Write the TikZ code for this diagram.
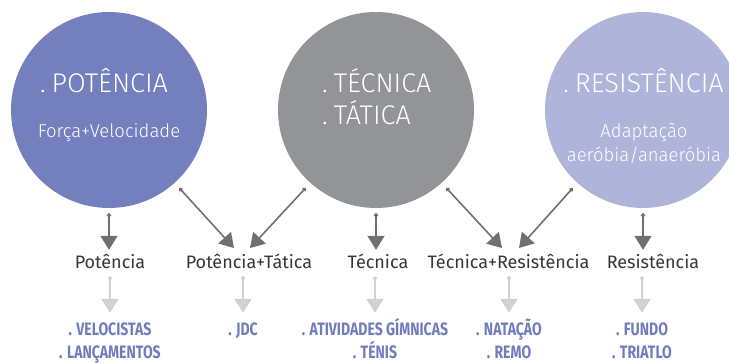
\documentclass[tikz,border=0pt]{standalone}
\usepackage{fontspec}
\setmainfont{Fira Sans}
\newfontfamily\lightfont{Fira Sans Light}
\newfontfamily\condfont{Fira Sans}[FakeStretch=0.78]
\usepackage{tikz}
\usetikzlibrary{positioning}
\usetikzlibrary{arrows.meta}
\definecolor{potblue}{RGB}{116,128,190}
\definecolor{tecgray}{RGB}{147,148,152}
\definecolor{reslilac}{RGB}{175,181,218}
\definecolor{arrgray}{RGB}{112,112,116}
\definecolor{arrlight}{RGB}{208,209,213}
\definecolor{txtdark}{RGB}{55,55,58}
\definecolor{sportblue}{RGB}{112,124,190}
\newcommand{\pt}{.\kern6pt}
\tikzset{circ/.style={circle, minimum size=196pt, inner sep=0pt}}
\tikzset{ctitle/.style={inner sep=0pt, text=white, font=\lightfont\fontsize{27}{32}\selectfont, anchor=base}}
\tikzset{csub/.style={inner sep=0pt, text=white, font=\lightfont\fontsize{18.5}{23}\selectfont, anchor=base}}
\tikzset{lbl/.style={inner sep=0pt, text height=16pt, text depth=0pt, text=txtdark, font=\fontsize{18}{21}\selectfont, anchor=base}}
\tikzset{sport/.style={inner sep=0pt, text height=20pt, text depth=0pt, text=sportblue, font=\condfont\bfseries\fontsize{18}{22}\selectfont, anchor=base}}
\tikzset{darr/.style={draw=arrgray, line width=1.6pt, {Circle[length=4pt]}-{Triangle[length=14pt,width=17pt]}, shorten <=5pt, shorten >=3pt}}
\tikzset{larr/.style={draw=arrlight, line width=1.8pt, {Circle[length=4pt]}-{Triangle[length=14pt,width=17pt]}, shorten <=7pt, shorten >=3pt}}

\begin{document}
\begin{tikzpicture}[x=1pt,y=-1pt]
\useasboundingbox (0,0) rectangle (729,363);
% the three circles
\node[circ, fill=potblue] (pot) at (109,110) {};
\node[circ, fill=tecgray] (tec) at (376,110) {};
\node[circ, fill=reslilac] (res) at (643,110) {};
\node[ctitle] (pot-t) at (104,92.7) {\pt POTÊNCIA};
\node[csub] (pot-s) at (109,138) {Força+Velocidade};
\node[ctitle, anchor=base west] (tec-t1) at (322,92.7) {\pt TÉCNICA};
\node[ctitle, anchor=base west] (tec-t2) at (322,124.5) {\pt TÁTICA};
\node[ctitle] (res-t) at (643.5,92.7) {\pt RESISTÊNCIA};
\node[csub] (res-s1) at (644,138) {Adaptação};
\node[csub] (res-s2) at (644,162) {aeróbia/anaeróbia};
% middle row
\node[lbl] (lpot) at (110,269) {Potência};
\node[lbl] (lpt) at (249,269) {Potência+Tática};
\node[lbl] (ltec) at (378,269) {Técnica};
\node[lbl] (ltr) at (508.5,269) {Técnica+Resistência};
\node[lbl] (lres) at (653,269) {Resistência};
\coordinate (lpt-a) at (234,248);
\coordinate (lpt-b) at (250,248);
\coordinate (ltr-a) at (502,248);
\coordinate (ltr-b) at (519,248);
% bottom row
\node[sport] (bpot1) at (110,336) {. VELOCISTAS};
\node[sport] (bpot2) at (110,359) {. LANÇAMENTOS};
\node[sport] (bjdc1) at (243,336) {. JDC};
\node[sport] (bgim1) at (375,336) {. ATIVIDADES GÍMNICAS};
\node[sport] (bgim2) at (375,359) {. TÉNIS};
\node[sport] (bnat1) at (509,336) {. NATAÇÃO};
\node[sport] (bnat2) at (509,359) {. REMO};
\node[sport] (bfun1) at (642,336) {. FUNDO};
\node[sport] (bfun2) at (642,359) {. TRIATLO};
% arrows
\draw[darr] (pot.south) -- (pot.south |- lpot.north);
\draw[darr] (tec.south) -- (tec.south |- ltec.north);
\draw[darr] (res.south) -- (res.south |- lres.north);
\draw[darr, shorten <=7pt, shorten >=0pt] (pot.-48) -- (lpt-a);
\draw[darr, shorten <=7pt, shorten >=0pt] (tec.-132) -- (lpt-b);
\draw[darr, shorten <=7pt, shorten >=0pt] (tec.-48) -- (ltr-a);
\draw[darr, shorten <=7pt, shorten >=0pt] (res.-132) -- (ltr-b);
\draw[larr] (bpot1.north |- lpot.south) -- (bpot1.north);
\draw[larr] (bjdc1.north |- lpt.south) -- (bjdc1.north);
\draw[larr] (bgim1.north |- ltec.south) -- (bgim1.north);
\draw[larr] (bnat1.north |- ltr.south) -- (bnat1.north);
\draw[larr] (bfun1.north |- lres.south) -- (bfun1.north);
\end{tikzpicture}
\end{document}
